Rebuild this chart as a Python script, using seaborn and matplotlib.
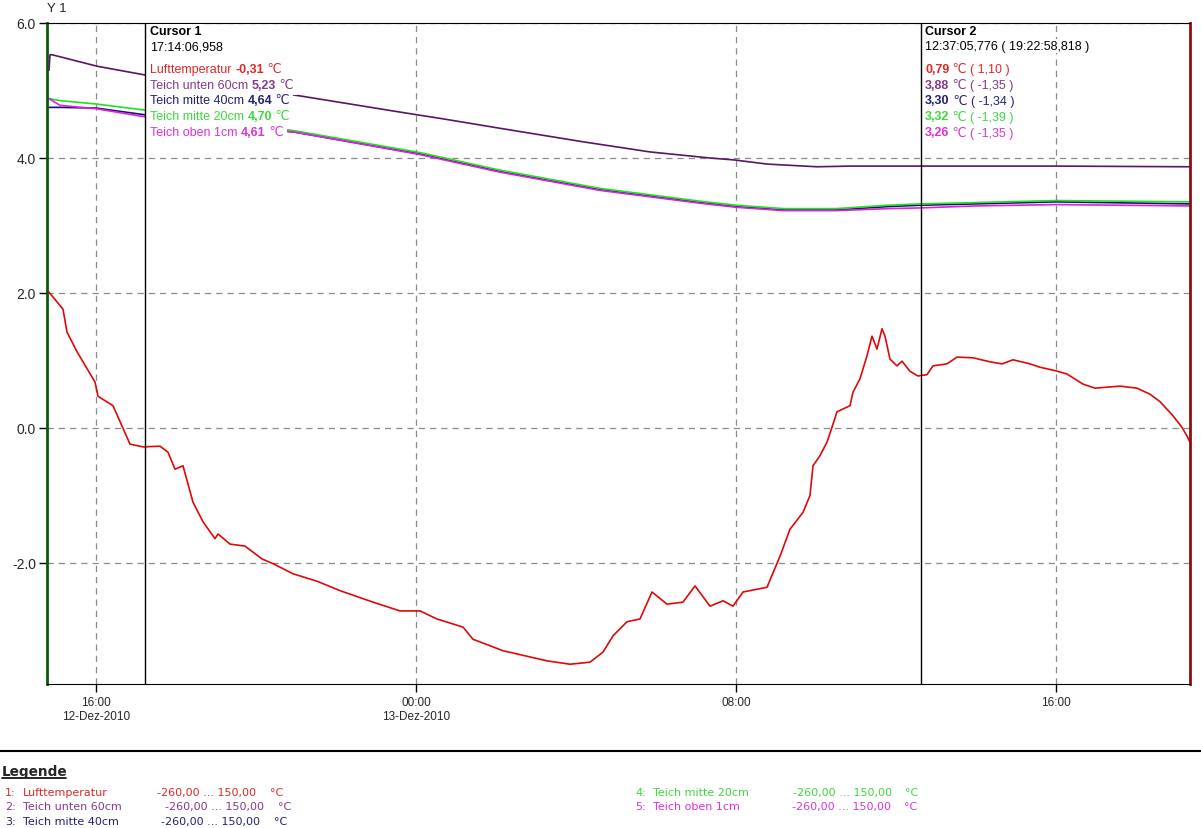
import matplotlib
matplotlib.use('Agg')
import matplotlib.pyplot as plt
from matplotlib.lines import Line2D
from matplotlib.ticker import FormatStrFormatter
import numpy as np
import pandas as pd
import seaborn as sns

sns.set_style('white')
plt.rcParams['font.family'] = ['Liberation Sans', 'DejaVu Sans']
plt.rcParams['axes.unicode_minus'] = False

# %% data: hours since 12-Dez-2010 00:00, temp in degC
t_luft = [14.80, 15.175, 15.275, 15.525, 15.975, 16.05, 16.425, 16.85, 17.175, 17.60,
          17.80, 17.975, 18.175, 18.425, 18.675, 18.975, 19.05, 19.35, 19.725, 20.15,
          20.425, 20.925, 21.525, 22.10, 22.925, 23.60, 24.10, 24.525, 25.175, 25.425,
          26.175, 27.275, 27.85, 28.35, 28.675, 28.925, 29.275, 29.60, 29.90, 30.275,
          30.675, 30.975, 31.35, 31.675, 31.925, 32.175, 32.775, 33.10, 33.35, 33.675,
          33.85, 33.925, 34.10, 34.275, 34.40, 34.525, 34.85, 34.925, 35.10, 35.275,
          35.40, 35.525, 35.65, 35.725, 35.85, 36.025, 36.15, 36.35, 36.55, 36.775,
          36.925, 37.275, 37.525, 37.925, 38.35, 38.65, 38.925, 39.35, 39.60, 39.975,
          40.275, 40.675, 40.975, 41.60, 42.025, 42.35, 42.60, 42.925, 43.15, 43.275, 43.35]
v_luft = [2.03, 1.76, 1.42, 1.13, 0.68, 0.47, 0.33, -0.24, -0.28, -0.27,
          -0.36, -0.61, -0.56, -1.10, -1.39, -1.64, -1.57, -1.72, -1.75, -1.94,
          -2.01, -2.16, -2.27, -2.41, -2.58, -2.71, -2.71, -2.83, -2.95, -3.13,
          -3.30, -3.45, -3.50, -3.47, -3.32, -3.08, -2.87, -2.83, -2.43, -2.61,
          -2.58, -2.34, -2.64, -2.56, -2.64, -2.43, -2.36, -1.90, -1.50, -1.25,
          -1.00, -0.56, -0.41, -0.21, 0.01, 0.24, 0.33, 0.53, 0.73, 1.07,
          1.36, 1.17, 1.47, 1.36, 1.02, 0.92, 0.99, 0.84, 0.77, 0.79,
          0.92, 0.95, 1.05, 1.04, 0.98, 0.95, 1.01, 0.95, 0.90, 0.85,
          0.80, 0.65, 0.59, 0.62, 0.59, 0.50, 0.39, 0.18, 0.01, -0.12, -0.21]

t_unten = [14.825, 14.85, 14.90, 16.025, 17.225, 21.10, 23.60, 24.675, 26.10, 28.175,
           29.85, 31.35, 31.975, 32.775, 34.025, 34.85, 36.60, 40.025, 43.35]
v_unten = [5.30, 5.53, 5.53, 5.36, 5.23, 4.92, 4.68, 4.58, 4.44, 4.24,
           4.09, 4.00, 3.97, 3.91, 3.87, 3.88, 3.88, 3.88, 3.87]

t_pond = [14.825, 15.10, 16.0, 17.225, 21.0, 24.1, 26.1, 28.6, 31.1, 32.0,
          33.2, 34.5, 35.8, 36.6, 38.0, 40.0, 43.35]
v_mitte40 = [4.75, 4.75, 4.74, 4.64, 4.38, 4.06, 3.80, 3.53, 3.34, 3.28,
             3.23, 3.23, 3.28, 3.30, 3.32, 3.35, 3.32]
v_mitte20 = [4.88, 4.85, 4.80, 4.71, 4.40, 4.08, 3.82, 3.55, 3.36, 3.30,
             3.25, 3.25, 3.30, 3.32, 3.34, 3.37, 3.35]
v_oben1 = [4.88, 4.78, 4.73, 4.61, 4.38, 4.05, 3.79, 3.52, 3.33, 3.27,
           3.22, 3.22, 3.25, 3.26, 3.29, 3.31, 3.29]

names = ['Lufttemperatur', 'Teich unten 60cm', 'Teich mitte 40cm', 'Teich mitte 20cm', 'Teich oben 1cm']
line_cols = {'Lufttemperatur': '#e00808', 'Teich unten 60cm': '#5c1466',
             'Teich mitte 40cm': '#12126e', 'Teich mitte 20cm': '#22e022',
             'Teich oben 1cm': '#e020e0'}
text_cols = ['#e02828', '#843a8a', '#22226e', '#3ed83e', '#d834d8']

cursor1_txt = ['-0,31', '5,23', '4,64', '4,70', '4,61']
cursor2_txt = ['0,79', '3,88', '3,30', '3,32', '3,26']
delta_txt = ['1,10', '-1,35', '-1,34', '-1,39', '-1,35']
cursor1_h = 17 + 14/60 + 6.958/3600
cursor2_h = 36 + 37/60 + 5.776/3600

base = pd.Timestamp('2010-12-12')
def tt(h):
  return base + pd.to_timedelta(np.asarray(h), unit='h')

# build long table, order = draw order
parts = [('Teich mitte 40cm', t_pond, v_mitte40), ('Teich mitte 20cm', t_pond, v_mitte20),
         ('Teich oben 1cm', t_pond, v_oben1), ('Teich unten 60cm', t_unten, v_unten),
         ('Lufttemperatur', t_luft, v_luft)]
subs = []
for nm, t, v in parts:
  subs.append(pd.DataFrame({'time': tt(t), 'temp': v, 'series': nm}))
ad = pd.concat(subs).reset_index(drop=True)

# %% figure
W, H = 1201, 829
def fx(x): return x / W
def fy(y): return 1 - y / H

fig = plt.figure(figsize=(W/100, H/100), dpi=100)
ax = fig.add_axes([fx(47), fy(685), (1190-47)/W, (685-24)/H])

sns.lineplot(data=ad, x='time', y='temp', hue='series', palette=line_cols,
             hue_order=[p[0] for p in parts], estimator=None, sort=False,
             legend=False, linewidth=1.2, ax=ax)

ax.set_xlim(tt(14.775), tt(43.35))
ax.set_ylim(-3.793, 6.0)
ax.set_yticks([-2, 0, 2, 4, 6])
ax.yaxis.set_major_formatter(FormatStrFormatter('%.1f'))
ax.set_xticks(tt([16, 24, 32, 40]))
ax.set_xticklabels(['16:00\n12-Dez-2010', '00:00\n13-Dez-2010', '08:00', '16:00'])
ax.set_xlabel('')
ax.set_ylabel('')
ax.tick_params(direction='out', length=6, width=1, color='black', pad=2,
               left=True, bottom=True)
ax.tick_params(axis='y', labelsize=10)
ax.tick_params(axis='x', labelsize=8.5, pad=3)
ax.grid(True, ls=(0, (5, 4)), color='#8a8a8a', lw=0.9)
ax.spines['left'].set_color('#0b5a0b')
ax.spines['left'].set_linewidth(2)
ax.spines['right'].set_color('#8a1010')
ax.spines['right'].set_linewidth(2)
ax.spines['bottom'].set_color('black')
ax.spines['top'].set_color('black')
ax.spines['top'].set_linewidth(0.8)

# cursor lines sit above the white text boxes but below the text
ax.axvline(tt(cursor1_h), color='black', lw=1, zorder=4.5)
ax.axvline(tt(cursor2_h), color='black', lw=1, zorder=4.5)

fig.text(fx(57), fy(9), 'Y 1', fontsize=9.5, ha='center', va='center')

# cursor readouts: text pieces chained so the values can be bold.
# first pass puts white boxes (hiding the curves), second pass the real text on top
def put_line(x, y, pieces, size=9, pad=2.6):
  for boxed in (True, False):
    prev = None
    for s, col, bold in pieces:
      kw = dict(fontsize=size, fontweight='bold' if bold else 'normal',
                va='center', ha='left', annotation_clip=False)
      if boxed:
        kw.update(color='white', zorder=4, bbox=dict(fc='white', ec='none', pad=pad))
      else:
        kw.update(color=col, zorder=5)
      if prev is None:
        prev = ax.annotate(s, xy=(fx(x), fy(y)), xycoords='figure fraction', **kw)
      else:
        prev = ax.annotate(s, xy=(1, 0.5), xycoords=prev, **kw)

put_line(150, 32, [('Cursor 1', 'black', True)], pad=1)
put_line(150, 47, [('17:14:06,958', 'black', False)], pad=1)
put_line(925, 32, [('Cursor 2', 'black', True)], pad=1)
put_line(925, 47, [('12:37:05,776 ( 19:22:58,818 )', 'black', False)], pad=1)
rows_y = [70, 86, 101, 117, 133]
for i in range(len(names)):
  c = text_cols[i]
  put_line(150, rows_y[i], [(names[i] + ' ', c, False), (cursor1_txt[i], c, True), (' \u2103', c, False)])
  put_line(925, rows_y[i], [(cursor2_txt[i], c, True), (' \u2103 ( ' + delta_txt[i] + ' )', c, False)])

# %% legend block under the chart
fig.add_artist(Line2D([0, 1], [fy(752), fy(752)], color='black', lw=1.5, transform=fig.transFigure))
fig.text(fx(2), fy(772), 'Legende', fontsize=9.8, fontweight='bold', family='DejaVu Sans',
         ha='left', va='center')
fig.add_artist(Line2D([fx(2), fx(66)], [fy(779), fy(779)], color='black', lw=1.2, transform=fig.transFigure))

leg_x = [5, 5, 5, 635, 635]
leg_y = [793, 807, 822, 793, 807]
rng_x = [157, 165, 161, 793, 792]
deg_x = [270, 278, 274, 905, 904]
for i in range(len(names)):
  kw = dict(fontsize=8, family='DejaVu Sans', color=text_cols[i], ha='left', va='center')
  fig.text(fx(leg_x[i]), fy(leg_y[i]), '%d:' % (i+1), **kw)
  fig.text(fx(leg_x[i]+18), fy(leg_y[i]), names[i], **kw)
  fig.text(fx(rng_x[i]), fy(leg_y[i]), '-260,00 ... 150,00', **kw)
  fig.text(fx(deg_x[i]), fy(leg_y[i]), '\u00b0C', **kw)

fig.savefig('out.png', dpi=100)
